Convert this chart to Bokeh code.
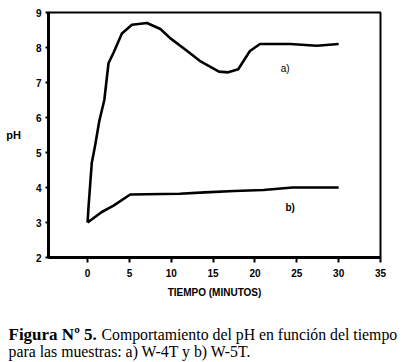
from bokeh.plotting import figure
from bokeh.models import Range1d, FixedTicker, Label
from bokeh.layouts import column
from bokeh.embed import file_html
from bokeh.resources import INLINE

# Series a) W-4T
t_a = [0, 0.1, 0.5, 0.9, 1.4, 2.0, 2.5, 3.1, 4.1, 5.3, 7.1, 8.7, 9.9, 11.9, 13.4,
       15.7, 16.8, 18.0, 19.4, 20.6, 24.2, 27.4, 30]
ph_a = [3.0, 3.4, 4.7, 5.2, 5.9, 6.5, 7.55, 7.85, 8.4, 8.65, 8.7, 8.53, 8.26, 7.9, 7.62,
        7.31, 7.29, 7.38, 7.9, 8.1, 8.1, 8.05, 8.1]
# Series b) W-5T
t_b = [0, 1.7, 3.1, 5.1, 11.0, 14.0, 17.5, 21.0, 24.5, 30]
ph_b = [3.0, 3.3, 3.48, 3.8, 3.82, 3.86, 3.9, 3.93, 4.0, 4.0]

x_ticks = [0, 5, 10, 15, 20, 25, 30, 35]
y_ticks = [2, 3, 4, 5, 6, 7, 8, 9]

p = figure(width=407, height=310, output_backend="svg", toolbar_location=None,
           x_range=Range1d(-4.67, 35), y_range=Range1d(2, 9))
p.frame_align = False
p.min_border_left = 48
p.min_border_right = 27
p.min_border_top = 12
p.min_border_bottom = 53
p.background_fill_color = "white"
p.border_fill_color = "white"
p.grid.visible = False
p.outline_line_color = "black"
p.outline_line_width = 2

for ax in (p.xaxis[0], p.yaxis[0]):
    ax.axis_line_width = 3
    ax.axis_line_color = "black"
    ax.major_tick_line_width = 2
    ax.major_tick_line_color = "black"
    ax.major_tick_in = 0
    ax.minor_tick_line_color = None
    ax.major_label_text_font = "Liberation Sans"
    ax.major_label_text_font_style = "bold"
    ax.major_label_text_font_size = "10px"
    ax.major_label_text_color = "black"
    ax.axis_label_text_font = "Liberation Sans"
    ax.axis_label_text_font_style = "bold"
    ax.axis_label_text_color = "black"

p.xaxis[0].ticker = FixedTicker(ticks=x_ticks)
p.yaxis[0].ticker = FixedTicker(ticks=y_ticks)
p.xaxis[0].major_tick_out = 5
p.yaxis[0].major_tick_out = 3
p.xaxis[0].major_label_standoff = 6
p.yaxis[0].major_label_standoff = 4

p.xaxis[0].axis_label = "TIEMPO (MINUTOS)"
p.xaxis[0].axis_label_text_font_size = "10px"
p.xaxis[0].axis_label_standoff = 7
p.yaxis[0].axis_label = "pH"
p.yaxis[0].axis_label_text_font_size = "11px"
p.yaxis[0].axis_label_orientation = "horizontal"
p.yaxis[0].axis_label_standoff = 12

p.line(t_a, ph_a, line_color="black", line_width=2.6, line_join="round")
p.line(t_b, ph_b, line_color="black", line_width=2.6, line_join="round")

p.add_layout(Label(x=23.6, y=7.4, text="a)", text_font="Liberation Sans",
                   text_font_size="10px", text_color="black",
                   text_align="center", text_baseline="middle"))
p.add_layout(Label(x=24.2, y=3.43, text="b)", text_font="Liberation Sans",
                   text_font_size="10px", text_font_style="bold", text_color="black",
                   text_align="center", text_baseline="middle"))

# Caption panel
c = figure(width=400, height=52, output_backend="svg", toolbar_location=None,
           x_range=Range1d(0, 400), y_range=Range1d(0, 52),
           x_axis_type=None, y_axis_type=None)
c.frame_align = False
c.min_border = 0
c.min_border_left = 0
c.min_border_right = 0
c.min_border_top = 0
c.min_border_bottom = 0
c.outline_line_color = None
c.grid.visible = False
c.background_fill_color = "white"
c.border_fill_color = "white"

def cap(x, y, text, size, style="normal"):
    c.add_layout(Label(x=x, y=y, text=text, text_font="Liberation Serif",
                       text_font_size=size, text_font_style=style, text_color="black",
                       text_align="left", text_baseline="alphabetic"))

cap(8, 28, "Figura Nº 5.", "17px", "bold")
cap(101, 28, "Comportamiento del pH en función del tiempo", "15.8px")
cap(8, 11, "para las muestras: a) W-4T y b) W-5T.", "15.8px")

open("out.html", "w").write(file_html(column(p, c, spacing=0), INLINE))
